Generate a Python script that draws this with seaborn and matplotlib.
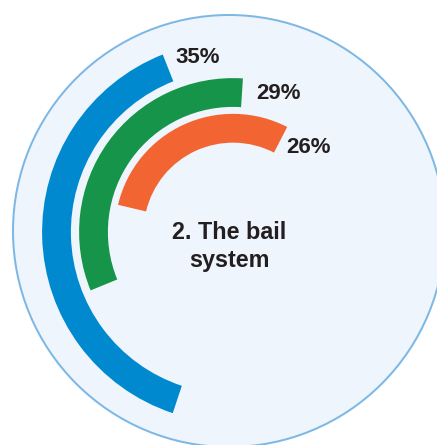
import numpy as np
import pandas as pd
import matplotlib
matplotlib.use("Agg")
import matplotlib.pyplot as plt
from matplotlib.patches import Circle
import seaborn as sns

# ---- data -------------------------------------------------------------
rings = ["Outer", "Middle", "Inner"]
shares = [35, 29, 26]                      # percent
share_labels = ["35%", "29%", "26%"]
centre_lines = ["2. The bail", "system"]

# ---- styling / layout -------------------------------------------------
ring_colors = ["#0089CF", "#16944A", "#F26532"]
INK = "#231F20"
DISC_FILL = "#EFF5FC"
DISC_EDGE = "#7DB8E5"

W, H, DPI = 437, 445, 100
DEG_PER_POINT = 4.0                        # angular scale of every arc
ring_start_deg = [111.6, 86.3, 62.7]       # clockwise end of each arc
ring_mid_px = [176.5, 139.5, 103.75]       # mid radius of each ring
RING_PITCH = 36.0                          # px between ring centre lines
ARC_CENTRE = (233, 232)                    # px, from top-left
POLAR_R = 200.0                            # px radius of the polar axes
label_nudge = [(2.7, 2.2), (6.1, -4.5), (6.6, -8.4)]  # (deg, px) from arc end

sns.set_theme(style="white")
plt.rcParams["font.family"] = ["Liberation Sans", "DejaVu Sans"]

fig = plt.figure(figsize=(W / DPI, H / DPI), dpi=DPI)
fig.patch.set_facecolor("white")

# pale disc behind everything, in pixel coordinates
bg = fig.add_axes([0, 0, 1, 1])
bg.set_xlim(0, W)
bg.set_ylim(H, 0)
bg.axis("off")
bg.add_patch(Circle((229, 231), 216, facecolor=DISC_FILL,
                    edgecolor=DISC_EDGE, linewidth=2 * 72 / DPI))

bg.text(229, 239, centre_lines[0], ha="center", va="baseline",
        fontsize=16.8, fontweight="bold", color=INK)
bg.text(229, 266.5, centre_lines[1], ha="center", va="baseline",
        fontsize=16.8, fontweight="bold", color=INK)

cx, cy = ARC_CENTRE
rect = [(cx - POLAR_R) / W, (H - cy - POLAR_R) / H,
        2 * POLAR_R / W, 2 * POLAR_R / H]

for name, share, label, color, start, mid, (dth, dr) in zip(
        rings, shares, share_labels, ring_colors,
        ring_start_deg, ring_mid_px, label_nudge):
    ax = fig.add_axes(rect, projection="polar")
    ax.set_theta_offset(np.deg2rad(start))
    ax.set_theta_direction(1)
    df = pd.DataFrame({"ring": [name],
                       "sweep": [np.deg2rad(share * DEG_PER_POINT)]})
    sns.barplot(data=df, x="sweep", y="ring", orient="h", color=color,
                saturation=1, width=0.8, errorbar=None, linewidth=0, ax=ax)
    ax.set_xlim(0, 2 * np.pi)
    ax.set_ylim(-0.5, (POLAR_R - mid) / RING_PITCH)
    ax.set_rorigin(-mid / RING_PITCH)
    ax.axis("off")
    ax.text(np.deg2rad(-dth), dr / RING_PITCH, label, ha="left",
            va="baseline", fontsize=16, fontweight="bold", color=INK)

fig.savefig("out.png", dpi=DPI)
